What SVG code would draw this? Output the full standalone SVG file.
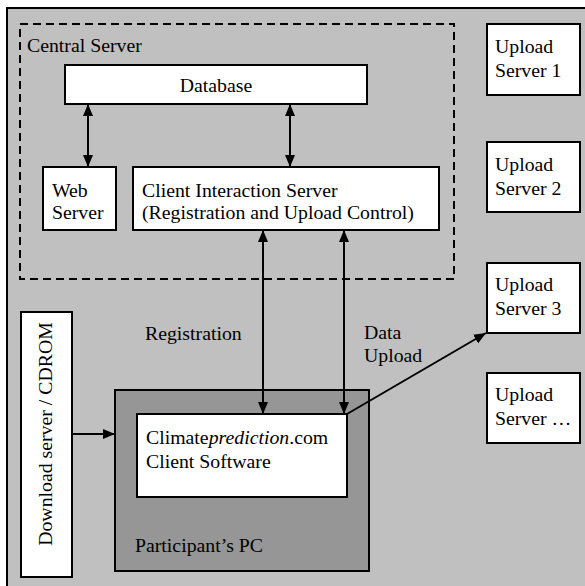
<svg xmlns="http://www.w3.org/2000/svg" width="585" height="586" viewBox="0 0 585 586">
<style>
text{font-family:'Liberation Serif','DejaVu Serif',serif;font-size:19.8px;fill:#000}
.box{fill:#fff;stroke:#000;stroke-width:2}
.ln{stroke:#000;stroke-width:2;fill:none}
</style>
<defs>
<marker id="ah" viewBox="0 0 12 10" refX="12" refY="5" markerWidth="12" markerHeight="10" markerUnits="userSpaceOnUse" orient="auto-start-reverse">
<path d="M0,0 L12,5 L0,10 z" fill="#000"/>
</marker>
</defs>
<rect width="585" height="586" fill="#fff"/>
<rect id="bg" x="7" y="8" width="600" height="600" fill="#c0c0c0" stroke="#000" stroke-width="2"/>
<g font-family="Liberation Serif, serif">
<g id="central-server">
<rect x="20" y="24" width="434" height="255" fill="none" stroke="#000" stroke-width="2" stroke-dasharray="8 5"/>
<text x="27" y="52">Central Server</text>
</g>
<g id="database">
<rect class="box" x="65" y="65" width="302" height="39"/>
<text x="216" y="92" text-anchor="middle">Database</text>
</g>
<g id="web-server">
<rect class="box" x="43" y="167" width="73" height="63"/>
<text x="52" y="197">Web</text>
<text x="52" y="219">Server</text>
</g>
<g id="cis">
<rect class="box" x="133" y="167" width="306" height="63"/>
<text x="142" y="197">Client Interaction Server</text>
<text x="142" y="219">(Registration and Upload Control)</text>
</g>
<g id="upload1">
<rect class="box" x="487" y="24" width="93" height="71"/>
<text x="495" y="53">Upload</text>
<text x="495" y="77">Server 1</text>
</g>
<g id="upload2">
<rect class="box" x="487" y="142" width="93" height="70"/>
<text x="495" y="171">Upload</text>
<text x="495" y="195">Server 2</text>
</g>
<g id="upload3">
<rect class="box" x="487" y="263" width="93" height="70"/>
<text x="495" y="291">Upload</text>
<text x="495" y="315">Server 3</text>
</g>
<g id="upload4">
<rect class="box" x="487" y="373" width="93" height="70"/>
<text x="495" y="401">Upload</text>
<text x="495" y="425">Server …</text>
</g>
<g id="download">
<rect class="box" x="21" y="312" width="51" height="265"/>
<text transform="translate(52,434) rotate(-90)" text-anchor="middle">Download server / CDROM</text>
</g>
<g id="pc">
<rect x="115" y="390" width="254" height="181" fill="#969696" stroke="#000" stroke-width="2"/>
<text x="135" y="552">Participant’s PC</text>
</g>
<g id="client">
<rect class="box" x="137" y="414" width="210" height="83"/>
<text x="146" y="444">Climate<tspan font-style="italic">prediction</tspan>.com</text>
<text x="146" y="468">Client Software</text>
</g>
<g id="connectors">
<line class="ln" x1="88" y1="104" x2="88" y2="167" marker-start="url(#ah)" marker-end="url(#ah)"/>
<line class="ln" x1="290" y1="104" x2="290" y2="167" marker-start="url(#ah)" marker-end="url(#ah)"/>
<line class="ln" x1="263" y1="230" x2="263" y2="414" marker-start="url(#ah)" marker-end="url(#ah)"/>
<line class="ln" x1="344" y1="230" x2="344" y2="414" marker-start="url(#ah)" marker-end="url(#ah)"/>
<line class="ln" x1="347" y1="414" x2="486" y2="333" marker-end="url(#ah)"/>
<line class="ln" x1="72" y1="434" x2="115" y2="434" marker-end="url(#ah)"/>
<text x="145" y="340">Registration</text>
<text x="364" y="339">Data</text>
<text x="364" y="362">Upload</text>
</g>
</g>
</svg>
